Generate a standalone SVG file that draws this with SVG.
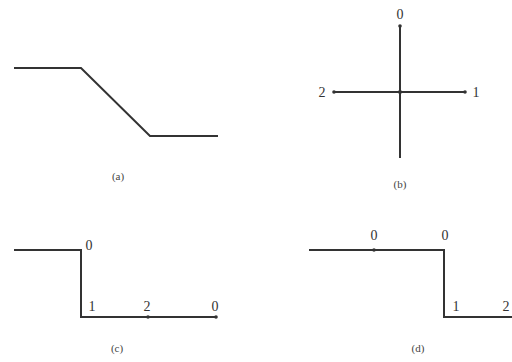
<svg xmlns="http://www.w3.org/2000/svg" width="512" height="362" viewBox="0 0 512 362">
<style>
.ln{fill:none;stroke:#333;stroke-width:2;stroke-linejoin:miter}
.lb{font-family:"Liberation Serif",serif;font-size:14px;fill:#333;text-anchor:middle}
.cap{font-family:"Liberation Serif",serif;font-size:11px;fill:#444;text-anchor:middle}
.dot{fill:#333}
</style>
<rect width="512" height="362" fill="#fff"/>
<g id="connectors">
<polyline class="ln" points="14,68 81,68 150,136 218,136"/>
<line class="ln" x1="400" y1="26" x2="400" y2="158"/>
<line class="ln" x1="334" y1="92" x2="465" y2="92"/>
<polyline class="ln" points="14,250 81,250 81,317 216,317"/>
<polyline class="ln" points="309,250 444,250 444,317 514,317"/>
</g>
<g id="a"><text class="cap" x="118" y="180">(a)</text></g>
<g id="b">
<circle class="dot" cx="400" cy="92" r="2"/>
<circle class="dot" cx="400" cy="26" r="1.8"/>
<circle class="dot" cx="334" cy="92" r="1.8"/>
<circle class="dot" cx="465" cy="92" r="1.8"/>
<text class="lb" x="400" y="19">0</text>
<text class="lb" x="322" y="97">2</text>
<text class="lb" x="476" y="97">1</text>
<text class="cap" x="400" y="188">(b)</text>
</g>
<g id="c">
<circle class="dot" cx="148" cy="317" r="1.8"/>
<circle class="dot" cx="216" cy="317" r="1.8"/>
<text class="lb" x="89" y="250">0</text>
<text class="lb" x="92" y="311">1</text>
<text class="lb" x="147" y="311">2</text>
<text class="lb" x="215" y="311">0</text>
<text class="cap" x="117" y="352">(c)</text>
</g>
<g id="d">
<circle class="dot" cx="374" cy="250" r="1.8"/>
<text class="lb" x="374" y="240">0</text>
<text class="lb" x="445" y="240">0</text>
<text class="lb" x="456" y="311">1</text>
<text class="lb" x="506" y="311">2</text>
<text class="cap" x="418" y="352">(d)</text>
</g>
</svg>
